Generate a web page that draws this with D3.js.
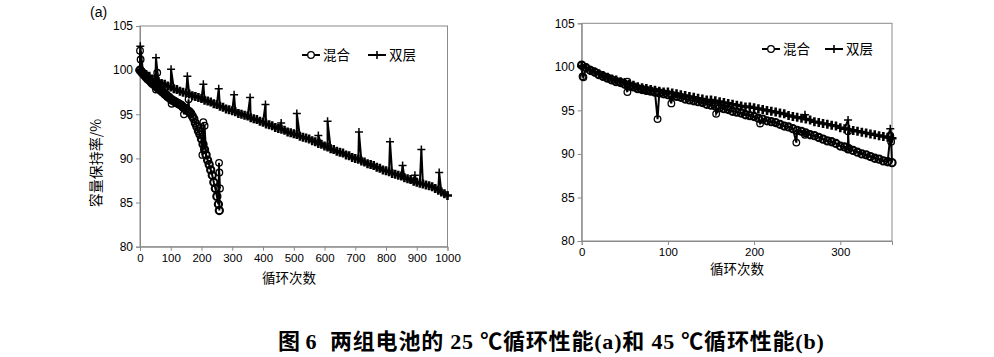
<!DOCTYPE html>
<html><head><meta charset="utf-8">
<script src="https://cdn.jsdelivr.net/npm/d3@7/dist/d3.min.js"></script>
<style>
body{margin:0;background:#fff;}
svg{display:block;}
text{font-family:"Liberation Sans",Arial,sans-serif;fill:#000;}
.cjk{font-family:"Noto Sans CJK SC",sans-serif;}
</style></head>
<body><svg id="c" width="994" height="357"></svg>
<script>
// ---------- DATA ----------
const xTicksA = [0,100,200,300,400,500,600,700,800,900,1000];
const xTicksB = [0,100,200,300];
const yTicks = [80,85,90,95,100,105];
const seriesNames = ["混合","双层"];

// (a) 25 °C — 双层, sampled every 10 cycles
const a25LayerCycles = d3.range(0,1001,10);
const a25Layer = [100.0,99.7,99.5,99.3,99.0,98.9,98.7,98.5,98.4,98.2,
 98.1,97.9,97.8,97.6,97.5,97.4,97.3,97.1,97.0,96.9,
 96.8,96.6,96.5,96.4,96.2,96.1,95.9,95.8,95.6,95.5,
 95.4,95.3,95.1,95.0,94.9,94.8,94.6,94.5,94.4,94.2,
 94.1,93.9,93.8,93.7,93.5,93.4,93.3,93.2,93.0,92.9,
 92.8,92.7,92.5,92.4,92.3,92.2,92.0,91.9,91.7,91.6,
 91.4,91.3,91.1,91.0,90.8,90.7,90.6,90.4,90.3,90.1,
 90.0,89.9,89.7,89.6,89.4,89.3,89.2,89.0,88.9,88.7,
 88.6,88.5,88.3,88.2,88.1,88.0,87.8,87.7,87.6,87.4,
 87.3,87.2,87.1,87.0,86.9,86.8,86.6,86.4,86.2,86.0,85.8];
const a25LayerSpikeCycles = [1,52,101,154,206,256,306,358,408,459,510,580,610,712,813,854,894,915,973];
const a25LayerSpikes = [102.7,101.4,100.1,99.3,98.4,97.9,97.2,96.9,96.1,94.0,95.1,92.6,94.2,93.0,91.9,89.2,88.1,91.0,88.4];

// (a) 25 °C — 混合, sampled every 5 cycles
const a25MixCycles = d3.range(0,260,5).concat([258]);
const a25Mix = [100.0,99.8,99.6,99.4,99.2,99.0,98.9,98.7,98.5,98.4,
 98.2,98.1,97.9,97.8,97.6,97.5,97.3,97.2,97.0,96.9,
 96.7,96.6,96.5,96.4,96.3,96.2,96.1,96.0,95.8,95.7,
 95.6,95.4,95.3,95.1,94.8,94.5,94.0,93.6,93.1,92.7,
 92.2,91.6,91.0,90.4,89.8,89.3,88.7,88.1,87.3,86.6,
 85.7,84.8,84.1];
const a25MixOutCycles = [0,2,56,52,103,143,158,203,206,210,257,258,260];
const a25MixOut = [102.2,101.2,99.7,97.8,96.2,95.0,96.7,90.4,94.1,93.7,89.5,88.4,86.6];

// (b) 45 °C — every 5 cycles
const b45Cycles = d3.range(0,361,5);
const b45Layer = [100.1,99.9,99.6,99.4,99.2,99.0,98.8,98.6,98.5,98.3,
 98.2,98.0,97.9,97.7,97.6,97.5,97.4,97.3,97.2,97.1,
 97.1,97.0,96.9,96.8,96.7,96.6,96.5,96.4,96.3,96.2,
 96.2,96.1,96.0,95.9,95.8,95.7,95.6,95.5,95.4,95.4,
 95.3,95.2,95.1,95.0,94.9,94.8,94.7,94.6,94.4,94.3,
 94.2,94.1,94.0,93.9,93.7,93.6,93.5,93.4,93.3,93.2,
 93.0,92.9,92.8,92.7,92.6,92.5,92.4,92.3,92.2,92.1,
 92.0,91.9,91.8];
const b45Mix = [100.2,99.9,99.6,99.4,99.1,98.9,98.7,98.5,98.3,98.2,
 98.0,97.8,97.7,97.5,97.4,97.3,97.2,97.1,97.0,96.9,
 96.8,96.7,96.6,96.5,96.3,96.2,96.1,96.0,95.9,95.7,
 95.6,95.5,95.3,95.2,95.1,94.9,94.8,94.7,94.5,94.4,
 94.3,94.1,94.0,93.8,93.7,93.6,93.4,93.2,93.1,92.9,
 92.7,92.6,92.4,92.2,92.1,91.9,91.7,91.5,91.4,91.2,
 90.9,90.8,90.6,90.4,90.2,90.0,89.9,89.7,89.5,89.4,
 89.2,89.1,89.0];
const b45MixOutCycles = [1,2,53,53,88,104,156,207,249,259,309,309,358,359];
const b45MixOut = [98.9,98.8,97.1,98.3,94.0,95.8,94.6,93.5,91.3,92.2,90.5,92.6,92.1,91.4];
const b45LayerOutCycles = [259,309,358];
const b45LayerOut = [94.5,93.9,92.9];

// ---------- DRAW ----------
const svg = d3.select("#c");
const axisCol = "#8a8a8a";

function merge(cyc, val, oc, ov){
  const pts = cyc.map((c,i)=>({x:c,y:val[i],k:0}));
  oc.forEach((c,i)=>pts.push({x:c+0.01,y:ov[i],k:1}));
  pts.sort((a,b)=>a.x-b.x);
  return pts;
}

function panel(o){
  const x = d3.scaleLinear().domain(o.xd).range([o.l,o.r]);
  const y = d3.scaleLinear().domain([80,105]).range([o.b,o.t]);
  const g = svg.append("g");
  g.append("rect").attr("x",o.l).attr("y",o.t).attr("width",o.r-o.l).attr("height",o.b-o.t)
    .attr("fill","none").attr("stroke",axisCol).attr("stroke-width",1);
  const ax = g.append("g").attr("transform",`translate(0,${o.b})`)
    .call(d3.axisBottom(x).tickValues(o.xt).tickSize(4).tickPadding(3).tickFormat(d3.format("d")));
  const ay = g.append("g").attr("transform",`translate(${o.l},0)`)
    .call(d3.axisLeft(y).tickValues(yTicks).tickSize(4).tickPadding(3));
  [ax,ay].forEach(a=>{
    a.select(".domain").attr("stroke",axisCol);
    a.selectAll(".tick line").attr("stroke",axisCol);
    a.selectAll("text").attr("font-family","Liberation Sans, Arial, sans-serif").attr("fill","#000");
  });
  ax.selectAll("text").attr("font-size",11.5);
  ay.selectAll("text").attr("font-size",12);

  const line = d3.line().x(d=>x(d.x)).y(d=>y(d.y));
  o.series.forEach(s=>{
    g.append("path").datum(s.pts).attr("d",line).attr("fill","none")
      .attr("stroke","#000").attr("stroke-width",2);
    const m = g.append("g");
    if(s.type==="circle"){
      m.selectAll("circle").data(s.pts).join("circle")
        .attr("cx",d=>x(d.x)).attr("cy",d=>y(d.y)).attr("r",d=>d.k?3.3:3.6)
        .attr("fill","none").attr("stroke","#000").attr("stroke-width",d=>d.k?1.3:2.1);
    } else {
      m.selectAll("path").data(s.pts).join("path")
        .attr("transform",d=>`translate(${x(d.x)},${y(d.y)})`)
        .attr("d",d=>d.k?`M-4,0H4M0,-4V4`:`M-4.5,0H4.5M0,-4.5V4.5`)
        .attr("stroke","#000").attr("stroke-width",d=>d.k?1.5:2.6).attr("fill","none");
    }
  });
  const lg = g.append("g");
  const L = o.leg;
  lg.append("line").attr("x1",L.x1).attr("x2",L.x1+18).attr("y1",L.y).attr("y2",L.y).attr("stroke","#000").attr("stroke-width",2);
  lg.append("circle").attr("cx",L.x1+9).attr("cy",L.y).attr("r",3.3).attr("fill","#fff").attr("stroke","#000").attr("stroke-width",1.3);
  lg.append("text").attr("class","cjk").attr("x",L.x1+21).attr("y",L.y+5).attr("font-size",13.5).text(seriesNames[0]);
  lg.append("line").attr("x1",L.x2).attr("x2",L.x2+18).attr("y1",L.y).attr("y2",L.y).attr("stroke","#000").attr("stroke-width",2);
  lg.append("line").attr("x1",L.x2+9).attr("x2",L.x2+9).attr("y1",L.y-4).attr("y2",L.y+4).attr("stroke","#000").attr("stroke-width",1.6);
  lg.append("text").attr("class","cjk").attr("x",L.x2+21).attr("y",L.y+5).attr("font-size",13.5).text(seriesNames[1]);
  g.append("text").attr("class","cjk").attr("x",o.xtx).attr("y",o.xty).attr("text-anchor","middle")
    .attr("font-size",13.5).text("循环次数");
  return {x,y};
}

panel({l:140,r:447.5,t:26,b:246.7,xd:[0,1000],xt:xTicksA,
  leg:{x1:302,x2:368,y:55}, xtx:289, xty:283,
  series:[
    {type:"circle",pts:merge(a25MixCycles,a25Mix,a25MixOutCycles,a25MixOut)},
    {type:"plus",pts:merge(a25LayerCycles,a25Layer,a25LayerSpikeCycles,a25LayerSpikes)}
  ]});
panel({l:581.7,r:892,t:23.3,b:241,xd:[0,360],xt:xTicksB,
  leg:{x1:762,x2:825,y:49}, xtx:737, xty:274,
  series:[
    {type:"circle",pts:merge(b45Cycles,b45Mix,b45MixOutCycles,b45MixOut)},
    {type:"plus",pts:merge(b45Cycles,b45Layer,b45LayerOutCycles,b45LayerOut)}
  ]});

svg.append("text").attr("class","cjk").attr("transform","translate(101,163) rotate(-90)")
  .attr("text-anchor","middle").attr("font-size",14).text("容量保持率/%");
svg.append("text").attr("x",90).attr("y",17).attr("font-size",14).text("(a)");

// caption
const serif = "Liberation Serif, Times New Roman, serif", cj = "Noto Sans CJK SC, sans-serif";
const cap1 = svg.append("text").attr("x",278).attr("y",349).attr("font-size",22).attr("font-weight","bold");
[["图",cj],[" 6",serif]].forEach(([t,f])=>cap1.append("tspan").attr("font-family",f).attr("xml:space","preserve").text(t));
const cap2 = svg.append("text").attr("x",330).attr("y",349).attr("font-size",22).attr("font-weight","bold").attr("letter-spacing",0.8);
[["两组电池的",cj],[" 25 ",serif],["℃循环性能",cj],["(a)",serif],["和",cj],[" 45 ",serif],["℃循环性能",cj],["(b)",serif]]
 .forEach(([t,f])=>cap2.append("tspan").attr("font-family",f).attr("xml:space","preserve").text(t));
</script></body></html>
